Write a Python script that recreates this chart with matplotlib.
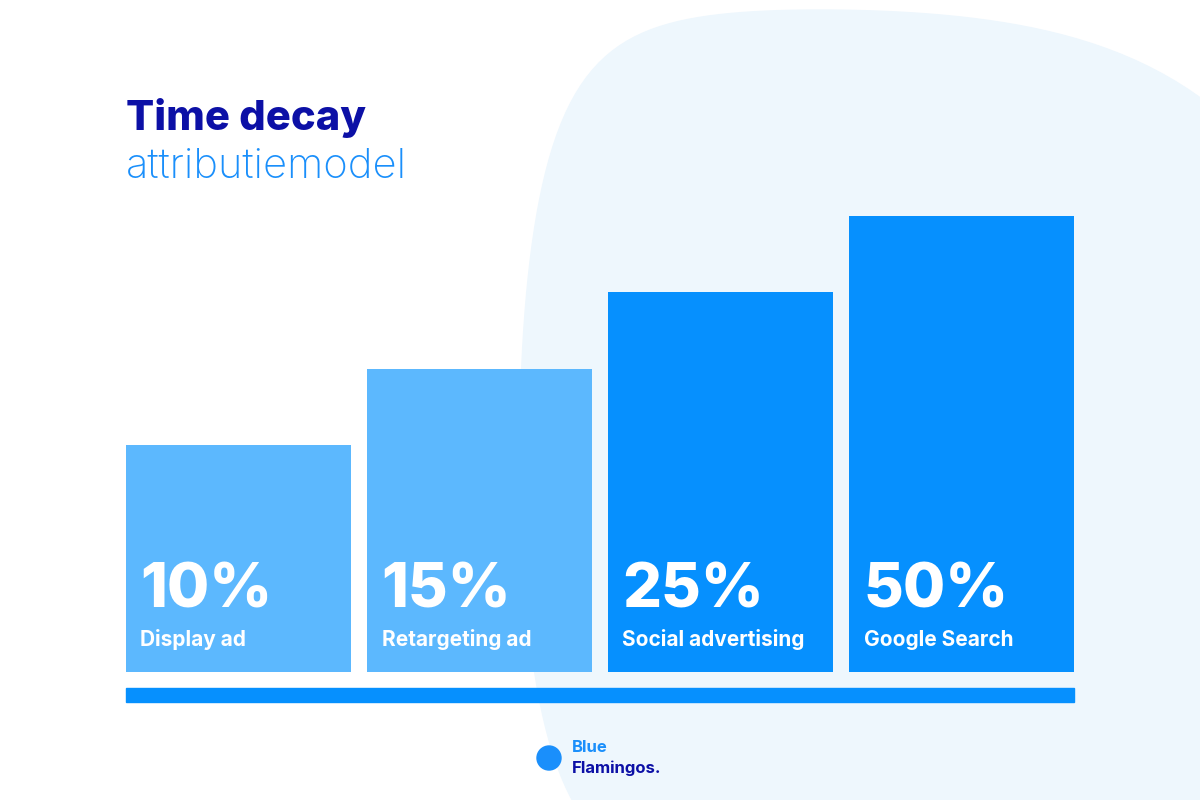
import matplotlib.pyplot as plt
from matplotlib.patches import Polygon
import numpy as np

channels = ["Display ad", "Retargeting ad", "Social advertising", "Google Search"]
shares = ["10%", "15%", "25%", "50%"]
# drawn bar heights (pixels) as shown in the picture, not proportional to shares
heights = [227, 303, 380, 456]
colors = ["#5cb8fe", "#5cb8fe", "#0690fe", "#0690fe"]

fig = plt.figure(figsize=(12, 8), dpi=100)
ax = fig.add_axes([0, 0, 1, 1])
ax.set_xlim(0, 1200)
ax.set_ylim(0, 800)
ax.axis("off")

# soft background blob
t = np.linspace(0, 2 * np.pi, 200)
bx = 880 + 420 * np.cos(t) + 60 * np.cos(2 * t)
by = 350 + 480 * np.sin(t) + 40 * np.sin(3 * t)
ax.add_patch(Polygon(np.c_[bx, by], closed=True, color="#eef7fd", zorder=0))

base = 128
x = np.array([126, 367, 608, 849]) + 112.5
ax.bar(x, heights, width=225, bottom=base, color=colors, zorder=2)
for xi, s, c in zip(x, shares, channels):
    ax.text(xi - 98, 180, s, color="white", fontsize=44, fontweight="heavy",
            fontfamily="Inter", va="bottom", zorder=3)
    ax.text(xi - 98, 160, c, color="white", fontsize=15, fontweight="bold",
            fontfamily="Inter", va="center", zorder=3)

ax.add_patch(plt.Rectangle((126, 98), 948, 14, color="#0690fe", zorder=2))

ax.text(126, 682, "Time decay", color="#0c10a6", fontsize=30, fontweight="heavy",
        fontfamily="Inter", va="center")
ax.text(126, 633, "attributiemodel", color="#1a8ffb", fontsize=30,
        fontweight="light", fontfamily="Inter", va="center")

ax.text(572, 52, "Blue", color="#1a8ffb", fontsize=12, fontweight="bold",
        fontfamily="Inter", va="center")
ax.text(572, 32, "Flamingos.", color="#0c10a6", fontsize=12, fontweight="bold",
        fontfamily="Inter", va="center")
ax.add_patch(plt.Circle((549, 42), 12, color="#1a8ffb"))

fig.savefig("out.png")
